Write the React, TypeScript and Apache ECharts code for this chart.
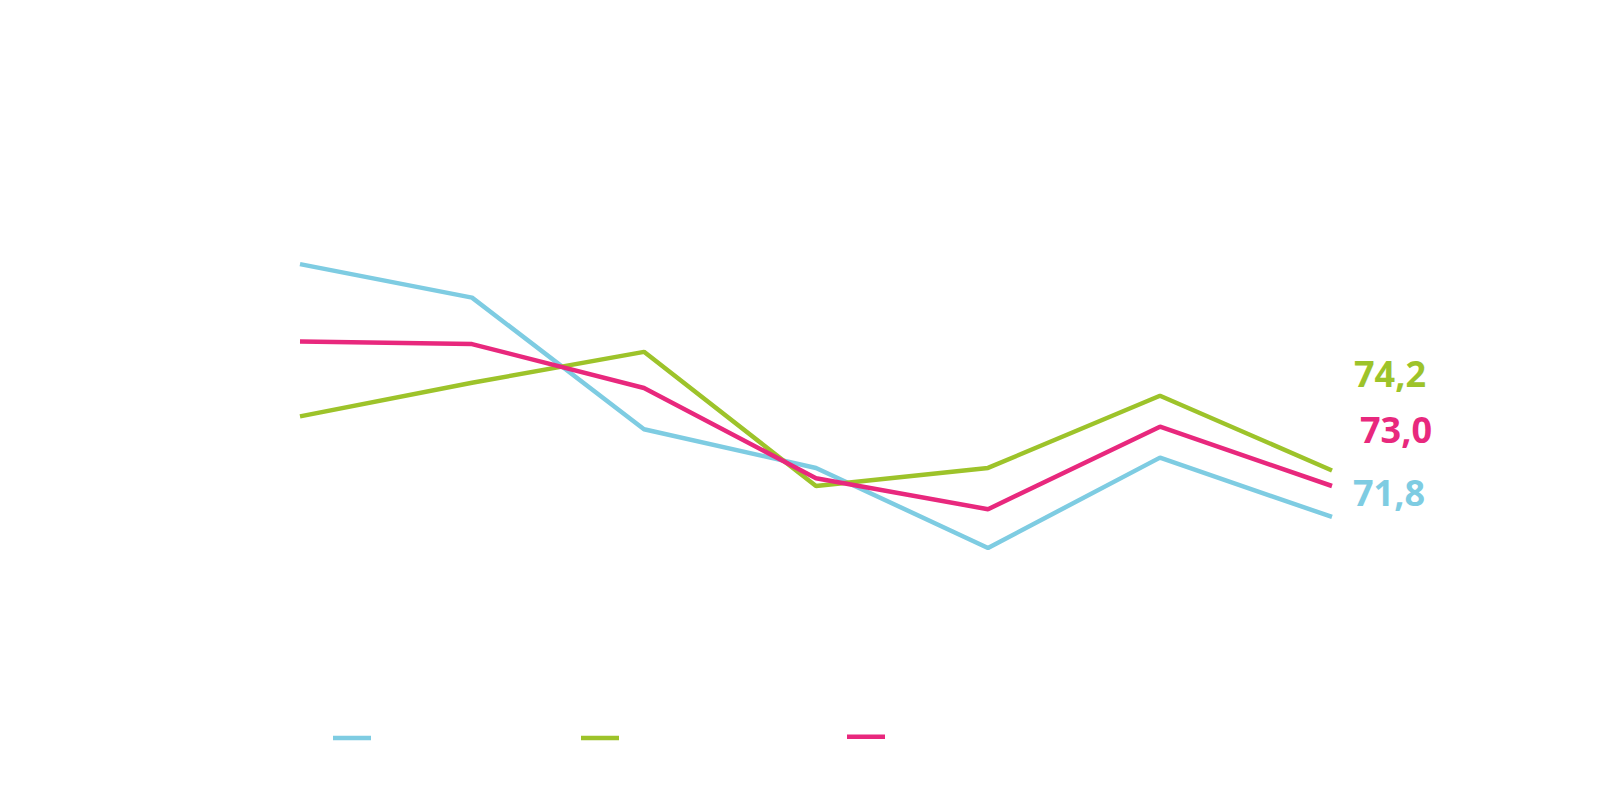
import { useEffect, useRef } from 'react';
import * as echarts from 'echarts';

// seven periods, no axis labels shown in the source
const categories = ['1', '2', '3', '4', '5', '6', '7'];

const seriesNames = ['Série 1', 'Série 2', 'Série 3'];
const seriesColors = ['#7eccE2', '#9dc32a', '#e8287d'];

const blueValues = [81.6, 80.3, 75.2, 73.7, 70.6, 74.1, 71.8];
const greenValues = [75.7, 77.0, 78.2, 73.0, 73.7, 76.5, 73.6];
const pinkValues = [78.6, 78.5, 76.8, 73.3, 72.1, 75.3, 73.0];

// latest figures printed next to the line ends
const latestLabels = ['71,8', '74,2', '73,0'];

const labelOffsets: [number, number][] = [
  [13, -24],
  [14, -97],
  [20, -57],
];
const legendLeft = [333, 581, 847];
const legendTop = [735.8, 735.8, 734.6];

export default function App() {
  const chartRef = useRef<HTMLDivElement>(null);

  useEffect(() => {
    document.body.style.margin = '0';
    if (!chartRef.current) return;
    const chart = echarts.init(chartRef.current, undefined, { renderer: 'svg' });

    const values = [blueValues, greenValues, pinkValues];

    chart.setOption({
      animation: false,
      backgroundColor: '#ffffff',
      grid: { left: 300, right: 268, top: 202.2, bottom: 133.4 },
      xAxis: {
        type: 'category',
        data: categories,
        boundaryGap: false,
        show: false,
      },
      yAxis: {
        type: 'value',
        min: 66,
        max: 84,
        show: false,
      },
      legend: seriesNames.map((name, i) => ({
        data: [name],
        left: legendLeft[i],
        top: legendTop[i],
        padding: 0,
        icon: 'rect',
        itemWidth: 38,
        itemHeight: 4.5,
        formatter: () => '',
        textStyle: { fontSize: 4, lineHeight: 4 },
        selectedMode: false,
      })),
      series: seriesNames.map((name, i) => ({
        name,
        type: 'line',
        data: values[i],
        color: seriesColors[i],
        symbol: 'none',
        lineStyle: { width: 4.5, color: seriesColors[i], cap: 'butt' },
        endLabel: {
          show: true,
          formatter: () => latestLabels[i],
          offset: labelOffsets[i],
          color: seriesColors[i],
          fontFamily: 'Open Sans',
          fontWeight: 'bold',
          fontSize: 36,
        },
      })),
    });

    return () => chart.dispose();
  }, []);

  return <div ref={chartRef} style={{ width: 1600, height: 800 }} />;
}
